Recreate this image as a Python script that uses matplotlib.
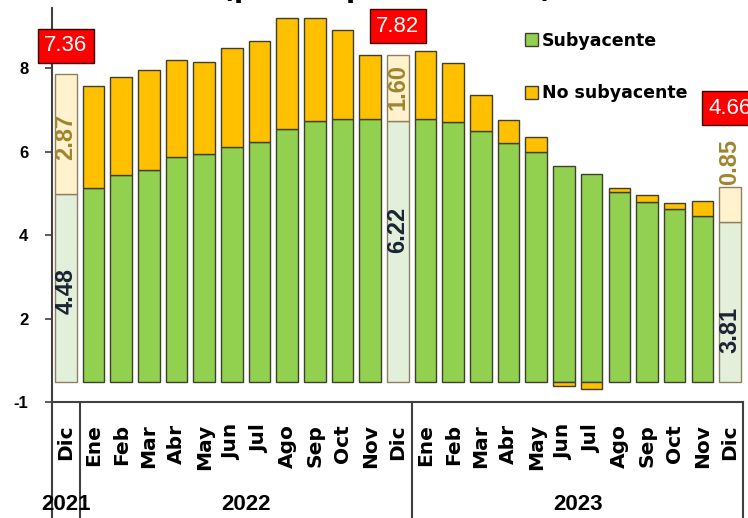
import matplotlib
matplotlib.use("Agg")
import matplotlib.pyplot as plt
import matplotlib.transforms as mtransforms
from matplotlib.patches import Patch

# datos: contribucion a la inflacion anual (puntos porcentuales)
meses = ["Dic",
         "Ene", "Feb", "Mar", "Abr", "May", "Jun", "Jul", "Ago", "Sep", "Oct", "Nov", "Dic",
         "Ene", "Feb", "Mar", "Abr", "May", "Jun", "Jul", "Ago", "Sep", "Oct", "Nov", "Dic"]
anios = ["2021", "2022", "2023"]
subyacente = [4.48,
              4.64, 4.94, 5.06, 5.38, 5.44, 5.62, 5.74, 6.03, 6.22, 6.28, 6.27, 6.22,
              6.28, 6.20, 6.00, 5.71, 5.49, 5.16, 4.96, 4.54, 4.30, 4.13, 3.96, 3.81]
no_subyacente = [2.87,
                 2.43, 2.34, 2.39, 2.30, 2.21, 2.37, 2.41, 2.67, 2.48, 2.13, 1.53, 1.60,
                 1.63, 1.42, 0.85, 0.54, 0.35, -0.10, -0.17, 0.10, 0.15, 0.13, 0.36, 0.85]
destacados = [0, 12, 24]          # diciembres
totales = ["7.36", "7.82", "4.66"]
etq_sub = ["4.48", "6.22", "3.81"]
etq_nosub = ["2.87", "1.60", "0.85"]
yticks_lbl = ["-1", "2", "4", "6", "8"]

VERDE = "#92D050"
NARANJA = "#FFC000"
VERDE_P = "#E2EFDA"
NARANJA_P = "#FFF2CC"
BORDE = "#3F3F2F"

fuente = ["Liberation Sans", "DejaVu Sans"]

fig = plt.figure(figsize=(7.48, 5.18), dpi=100)
ax = fig.add_axes([52 / 748, 1 - 402 / 518, (743 - 52) / 748, (402 - 8) / 518])

x = list(range(len(meses)))
col_s = [VERDE_P if i in destacados else VERDE for i in x]
col_n = [NARANJA_P if i in destacados else NARANJA for i in x]
ed = ["#8C8060" if i in destacados else BORDE for i in x]

# la parte negativa va por debajo de la base
bottoms = [s if n >= 0 else 0 for s, n in zip(subyacente, no_subyacente)]
ax.bar(x, subyacente, width=0.78, color=col_s, edgecolor=ed, linewidth=1.0, zorder=2)
ax.bar(x, no_subyacente, width=0.78, bottom=bottoms, color=col_n, edgecolor=ed,
       linewidth=1.0, zorder=2)

ax.set_xlim(-0.5, 24.47)
ax.set_ylim(-0.49, 8.935)
ax.set_yticks([-0.49, 1.5, 3.5, 5.5, 7.5])
ax.set_yticklabels(yticks_lbl, family=fuente, fontsize=12, fontweight="bold")
ax.tick_params(axis="y", length=5, width=1.2, pad=12, color="#404040")
ax.set_xticks(x)
ax.set_xticklabels(meses, rotation=90, fontsize=14.5, fontweight="bold", va="top")
ax.tick_params(axis="x", length=0, pad=16)
for s in ["top", "right"]:
    ax.spines[s].set_visible(False)
for s in ["left", "bottom"]:
    ax.spines[s].set_color("#404040")
    ax.spines[s].set_linewidth(1.5)

# caja de categorias
trans = mtransforms.blended_transform_factory(ax.transData, ax.transAxes)
for xs in [-0.5, 0.5, 12.5, 24.47]:
    ax.plot([xs, xs], [0, -0.35], transform=trans, color="#404040", lw=1.5, clip_on=False)
for xc, a in zip([0, 6.5, 18.5], anios):
    ax.text(xc, -0.259, a, transform=trans, ha="center", va="center", family=fuente,
            fontsize=16, fontweight="bold")

# etiquetas de los diciembres
for k, i in enumerate(destacados):
    tot = subyacente[i] + no_subyacente[i]
    off = 1.88 if i == 24 else 0.68
    ax.text(i, tot + off, totales[k], ha="center", va="center", color="white",
            family=fuente, fontsize=16, zorder=5,
            bbox=dict(boxstyle="square,pad=0.28", fc="#FF0000", ec="#3A0000", lw=1.0))
pos_s = [2.17, 3.62, 1.23]
pos_n = [5.85, 7.04, 5.25]
for k, i in enumerate(destacados):
    ax.text(i, pos_s[k], etq_sub[k], rotation=90, ha="center", va="center",
            family=fuente, fontsize=17, fontweight="bold", color="#1A2433", zorder=4)
    ax.text(i, pos_n[k], etq_nosub[k], rotation=90, ha="center", va="center",
            family=fuente, fontsize=17, fontweight="bold", color="#A08530", zorder=4)

# leyenda
handles = [Patch(fc=VERDE, ec=BORDE, lw=1.0), Patch(fc=NARANJA, ec=BORDE, lw=1.0)]
fig.legend(handles, ["Subyacente", "No subyacente"], loc="upper left",
           bbox_to_anchor=(516 / 748, 1 - 23 / 518), frameon=False,
           prop=dict(family="DejaVu Sans", size=12.5, weight="bold"), handlelength=0.75,
           handleheight=0.75, handletextpad=0.25, labelspacing=2.0, borderpad=0)

# titulo cortado arriba
fig.text(387 / 748, 1 + 3 / 518, "(puntos porcentuales)", ha="center", va="baseline",
         fontsize=19, fontweight="bold")

fig.savefig("out.png", dpi=100)
